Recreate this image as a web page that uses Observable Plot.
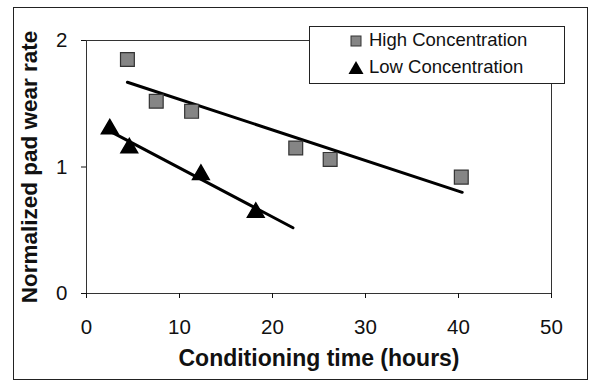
<!DOCTYPE html>
<html>
<head>
<meta charset="utf-8">
<script src="https://cdn.jsdelivr.net/npm/d3@7"></script>
<script src="https://cdn.jsdelivr.net/npm/@observablehq/plot@0.6"></script>
<style>
  html, body { margin: 0; padding: 0; background: #fff; }
  #wrap { position: relative; width: 593px; height: 383px; font-family: "Liberation Sans", Arial, sans-serif; }
  #border { position: absolute; left: 13px; top: 7px; width: 575px; height: 373px; border: 1.5px solid #222; box-sizing: border-box; pointer-events: none; }
  #legend { position: absolute; left: 309px; top: 26px; width: 256px; height: 58px; border: 1px solid #222; background: #fff; box-sizing: border-box; font-size: 18.5px; color: #111; }
  .row { position: absolute; left: 59px; height: 22px; line-height: 22px; white-space: nowrap; }
  .ico { position: absolute; left: -16px; }
</style>
</head>
<body>
<div id="wrap">
  <div id="chart"></div>
  <div id="border"></div>
  <div id="legend"></div>
</div>
<script>
// Data
const seriesNames = ["High Concentration", "Low Concentration"];
const highTime = [4.4, 7.5, 11.3, 22.5, 26.2, 40.3];
const highRate = [1.85, 1.52, 1.44, 1.15, 1.06, 0.92];
const lowTime = [2.5, 4.6, 12.3, 18.2];
const lowRate = [1.30, 1.15, 0.94, 0.64];
const highFitTime = [4.4, 40.4];
const highFitRate = [1.67, 0.80];
const lowFitTime = [2.6, 22.2];
const lowFitRate = [1.28, 0.52];
const xTicks = [0, 10, 20, 30, 40, 50];
const yTicks = [0, 1, 2];

const high = highTime.map((t, i) => ({t, r: highRate[i]}));
const low = lowTime.map((t, i) => ({t, r: lowRate[i]}));
const highFit = highFitTime.map((t, i) => ({t, r: highFitRate[i]}));
const lowFit = lowFitTime.map((t, i) => ({t, r: lowFitRate[i]}));

const chart = Plot.plot({
  width: 593,
  height: 383,
  marginLeft: 86,
  marginRight: 42,
  marginTop: 40,
  marginBottom: 90,
  style: {fontFamily: "Liberation Sans, Arial, sans-serif", fontSize: "20px", color: "#111", background: "#fff"},
  x: {domain: [0, 50]},
  y: {domain: [0, 2]},
  marks: [
    Plot.frame({stroke: "#333", strokeWidth: 1}),
    Plot.axisX({ticks: xTicks, tickFormat: "d", tickSize: 5, tickPadding: 21, fontSize: 20.5, label: "Conditioning time (hours)", labelAnchor: "center", labelArrow: "none", labelOffset: 72}),
    Plot.axisY({ticks: yTicks, tickFormat: "d", tickSize: 5, tickPadding: 14, fontSize: 20.5, label: "Normalized pad wear rate", labelAnchor: "center", labelArrow: "none", labelOffset: 65}),
    Plot.line(highFit, {x: "t", y: "r", stroke: "#000", strokeWidth: 3}),
    Plot.line(lowFit, {x: "t", y: "r", stroke: "#000", strokeWidth: 3}),
    Plot.dot(high, {x: "t", y: "r", symbol: "square", r: 7.8, fill: "#858585", stroke: "#333", strokeWidth: 1.2}),
    Plot.dot(low, {x: "t", y: "r", symbol: "triangle", r: 6.2, fill: "#000", stroke: "#000"})
  ]
});
const svg = d3.select(chart);
svg.selectAll('g[aria-label="x-axis label"] text')
  .style("font-weight", "bold").style("font-size", "23px");
svg.selectAll('g[aria-label="y-axis label"] text')
  .style("font-weight", "bold").style("font-size", "22.5px");
document.getElementById("chart").appendChild(chart);

const legend = d3.select("#legend");
const r1 = legend.append("div").attr("class", "row").style("top", "2px");
r1.append("svg").attr("class", "ico").style("left", "-19px").style("top", "6px").attr("width", 12).attr("height", 12)
  .append("rect").attr("x", 1).attr("y", 1).attr("width", 10).attr("height", 10)
  .attr("fill", "#858585").attr("stroke", "#333");
r1.append("span").text(seriesNames[0]);
const r2 = legend.append("div").attr("class", "row").style("top", "29px");
r2.append("svg").attr("class", "ico").style("left", "-21px").style("top", "4px").attr("width", 16).attr("height", 15)
  .append("path").attr("d", "M8,1 L15.5,14 L0.5,14 Z").attr("fill", "#000");
r2.append("span").text(seriesNames[1]);
</script>
</body>
</html>
